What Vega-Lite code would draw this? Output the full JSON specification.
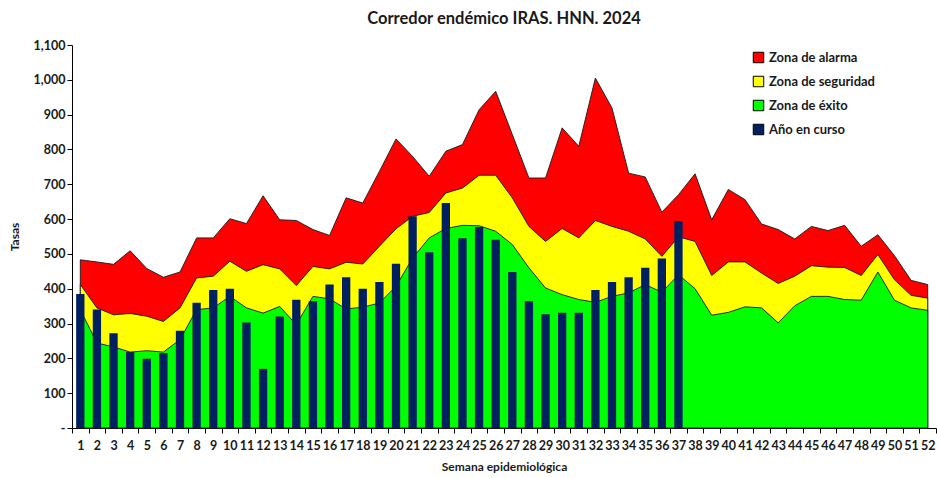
{
  "$schema": "https://vega.github.io/schema/vega-lite/v6.json",
  "width": 864,
  "height": 383,
  "autosize": "none",
  "padding": {"left": 72, "top": 45, "right": 1, "bottom": 50},
  "background": "white",
  "config": {
    "view": {"stroke": null},
    "font": "Lato",
    "axisY": {
      "titleFont": "Lato",
      "titleFontSize": 12,
      "titleFontWeight": "bold",
      "titleColor": "#1a1a1a",
      "titlePadding": 12,
      "labelOverlap": false,
      "labelFont": "Lato",
      "labelFontSize": 12.5,
      "labelFontWeight": "bold",
      "labelColor": "#1a1a1a",
      "tickSize": 5,
      "tickColor": "#000",
      "domainColor": "#000",
      "grid": false
    }
  },
  "title": {
    "text": "Corredor endémico IRAS. HNN. 2024",
    "font": "Lato",
    "fontSize": 16.5,
    "fontWeight": "bold",
    "color": "#1a1a1a",
    "anchor": "middle",
    "offset": 12
  },
  "data": {
    "values": [
      {"semana": 1, "alarma": 483, "seguridad": 412, "exito": 340, "actual": 385},
      {"semana": 2, "alarma": 477, "seguridad": 345, "exito": 244, "actual": 340},
      {"semana": 3, "alarma": 470, "seguridad": 325, "exito": 233, "actual": 272},
      {"semana": 4, "alarma": 509, "seguridad": 329, "exito": 218, "actual": 218},
      {"semana": 5, "alarma": 458, "seguridad": 321, "exito": 222, "actual": 199},
      {"semana": 6, "alarma": 433, "seguridad": 306, "exito": 218, "actual": 215},
      {"semana": 7, "alarma": 448, "seguridad": 345, "exito": 254, "actual": 279},
      {"semana": 8, "alarma": 546, "seguridad": 431, "exito": 340, "actual": 360},
      {"semana": 9, "alarma": 546, "seguridad": 436, "exito": 345, "actual": 396},
      {"semana": 10, "alarma": 601, "seguridad": 479, "exito": 378, "actual": 400},
      {"semana": 11, "alarma": 587, "seguridad": 450, "exito": 345, "actual": 303},
      {"semana": 12, "alarma": 667, "seguridad": 469, "exito": 330, "actual": 170},
      {"semana": 13, "alarma": 598, "seguridad": 457, "exito": 349, "actual": 320},
      {"semana": 14, "alarma": 596, "seguridad": 409, "exito": 297, "actual": 368},
      {"semana": 15, "alarma": 570, "seguridad": 464, "exito": 378, "actual": 364},
      {"semana": 16, "alarma": 553, "seguridad": 457, "exito": 371, "actual": 412},
      {"semana": 17, "alarma": 661, "seguridad": 476, "exito": 342, "actual": 433},
      {"semana": 18, "alarma": 646, "seguridad": 471, "exito": 347, "actual": 400},
      {"semana": 19, "alarma": 737, "seguridad": 522, "exito": 359, "actual": 419},
      {"semana": 20, "alarma": 830, "seguridad": 572, "exito": 407, "actual": 472},
      {"semana": 21, "alarma": 780, "seguridad": 608, "exito": 488, "actual": 608},
      {"semana": 22, "alarma": 723, "seguridad": 619, "exito": 546, "actual": 505},
      {"semana": 23, "alarma": 795, "seguridad": 675, "exito": 573, "actual": 646},
      {"semana": 24, "alarma": 814, "seguridad": 689, "exito": 582, "actual": 545},
      {"semana": 25, "alarma": 914, "seguridad": 726, "exito": 581, "actual": 577},
      {"semana": 26, "alarma": 967, "seguridad": 726, "exito": 565, "actual": 541},
      {"semana": 27, "alarma": 843, "seguridad": 661, "exito": 527, "actual": 448},
      {"semana": 28, "alarma": 718, "seguridad": 579, "exito": 460, "actual": 364},
      {"semana": 29, "alarma": 718, "seguridad": 536, "exito": 402, "actual": 327},
      {"semana": 30, "alarma": 862, "seguridad": 573, "exito": 383, "actual": 331},
      {"semana": 31, "alarma": 809, "seguridad": 546, "exito": 369, "actual": 331},
      {"semana": 32, "alarma": 1005, "seguridad": 596, "exito": 361, "actual": 396},
      {"semana": 33, "alarma": 919, "seguridad": 579, "exito": 378, "actual": 419},
      {"semana": 34, "alarma": 732, "seguridad": 565, "exito": 388, "actual": 433},
      {"semana": 35, "alarma": 721, "seguridad": 543, "exito": 412, "actual": 460},
      {"semana": 36, "alarma": 620, "seguridad": 493, "exito": 390, "actual": 487},
      {"semana": 37, "alarma": 670, "seguridad": 549, "exito": 440, "actual": 594},
      {"semana": 38, "alarma": 730, "seguridad": 536, "exito": 400, "actual": null},
      {"semana": 39, "alarma": 598, "seguridad": 438, "exito": 324, "actual": null},
      {"semana": 40, "alarma": 685, "seguridad": 477, "exito": 332, "actual": null},
      {"semana": 41, "alarma": 656, "seguridad": 477, "exito": 348, "actual": null},
      {"semana": 42, "alarma": 586, "seguridad": 445, "exito": 345, "actual": null},
      {"semana": 43, "alarma": 570, "seguridad": 415, "exito": 302, "actual": null},
      {"semana": 44, "alarma": 543, "seguridad": 436, "exito": 351, "actual": null},
      {"semana": 45, "alarma": 579, "seguridad": 466, "exito": 378, "actual": null},
      {"semana": 46, "alarma": 567, "seguridad": 462, "exito": 378, "actual": null},
      {"semana": 47, "alarma": 582, "seguridad": 461, "exito": 369, "actual": null},
      {"semana": 48, "alarma": 522, "seguridad": 438, "exito": 367, "actual": null},
      {"semana": 49, "alarma": 555, "seguridad": 498, "exito": 448, "actual": null},
      {"semana": 50, "alarma": 495, "seguridad": 426, "exito": 367, "actual": null},
      {"semana": 51, "alarma": 424, "seguridad": 381, "exito": 345, "actual": null},
      {"semana": 52, "alarma": 412, "seguridad": 373, "exito": 338, "actual": null}
    ]
  },
  "encoding": {
    "x": {
      "field": "semana",
      "type": "ordinal",
      "scale": {"paddingInner": 0, "paddingOuter": 0},
      "axis": {
        "title": "Semana epidemiológica",
        "titleFont": "Lato",
        "titleFontSize": 12,
        "titleFontWeight": "bold",
        "titleColor": "#1a1a1a",
        "titlePadding": 10,
        "labelAngle": 0,
        "labelFont": "Lato",
        "labelFontSize": 12.5,
        "labelFontWeight": "bold",
        "labelColor": "#1a1a1a",
        "labelOverlap": false,
        "labelBound": false,
        "labelPadding": 6,
        "tickBand": "extent",
        "tickSize": 5,
        "tickColor": "#000",
        "domainColor": "#000",
        "grid": false
      }
    },
    "color": {
      "scale": {
        "domain": ["Zona de alarma", "Zona de seguridad", "Zona de éxito", "Año en curso"],
        "range": ["#FF0000", "#FFFF00", "#00FF00", "#002060"]
      },
      "legend": {
        "title": null,
        "orient": "none",
        "legendX": 680,
        "legendY": 6,
        "symbolType": "square",
        "symbolSize": 110,
        "symbolStrokeColor": "#000",
        "symbolStrokeWidth": 1,
        "labelFont": "Lato",
        "labelFontSize": 13,
        "labelFontWeight": "bold",
        "labelColor": "#1a1a1a",
        "rowPadding": 9,
        "labelOffset": 4
      }
    }
  },
  "layer": [
    {
      "mark": {"type": "area", "stroke": "#1a1a1a", "strokeWidth": 0.9, "opacity": 1},
      "encoding": {
        "y": {
          "field": "alarma",
          "type": "quantitative",
          "scale": {"domain": [0, 1100], "nice": false},
          "axis": {
            "title": "Tasas",
            "values": [0, 100, 200, 300, 400, 500, 600, 700, 800, 900, 1000, 1100],
            "labelExpr": "datum.value == 0 ? '-' : format(datum.value, ',')"
          }
        },
        "color": {"datum": "Zona de alarma"}
      }
    },
    {
      "mark": {"type": "area", "stroke": "#1a1a1a", "strokeWidth": 0.9, "opacity": 1},
      "encoding": {
        "y": {
          "field": "seguridad",
          "type": "quantitative",
          "axis": {
            "title": "Tasas",
            "values": [0, 100, 200, 300, 400, 500, 600, 700, 800, 900, 1000, 1100],
            "labelExpr": "datum.value == 0 ? '-' : format(datum.value, ',')"
          }
        },
        "color": {"datum": "Zona de seguridad"}
      }
    },
    {
      "mark": {"type": "area", "stroke": "#1a1a1a", "strokeWidth": 0.9, "opacity": 1},
      "encoding": {
        "y": {
          "field": "exito",
          "type": "quantitative",
          "axis": {
            "title": "Tasas",
            "values": [0, 100, 200, 300, 400, 500, 600, 700, 800, 900, 1000, 1100],
            "labelExpr": "datum.value == 0 ? '-' : format(datum.value, ',')"
          }
        },
        "color": {"datum": "Zona de éxito"}
      }
    },
    {
      "mark": {"type": "bar", "width": {"band": 0.5}},
      "encoding": {
        "y": {
          "field": "actual",
          "type": "quantitative",
          "axis": {
            "title": "Tasas",
            "values": [0, 100, 200, 300, 400, 500, 600, 700, 800, 900, 1000, 1100],
            "labelExpr": "datum.value == 0 ? '-' : format(datum.value, ',')"
          }
        },
        "color": {"datum": "Año en curso"}
      }
    }
  ]
}
